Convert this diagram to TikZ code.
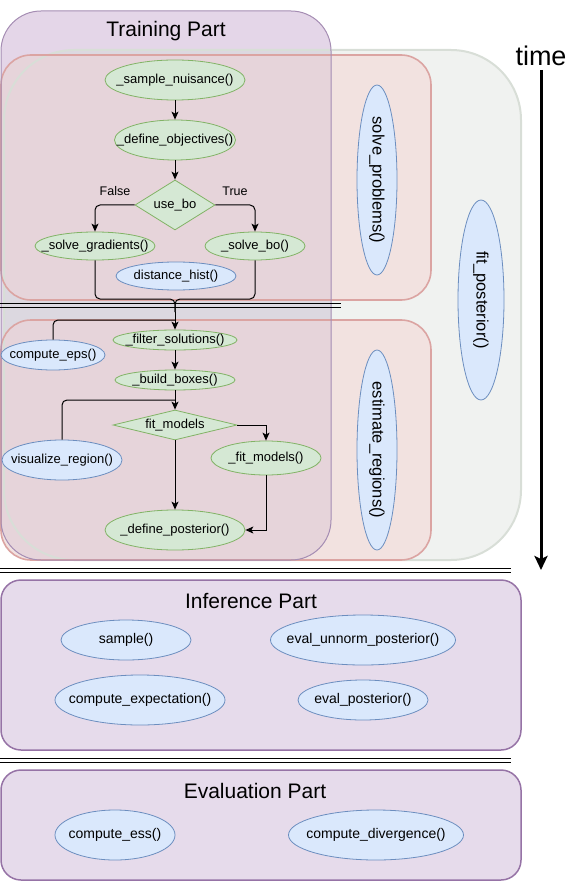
\documentclass[tikz,border=0pt]{standalone}
\usepackage{fontspec}
\setmainfont{Liberation Sans}
\usetikzlibrary{shapes.geometric,arrows.meta}
\definecolor{gfill}{HTML}{D5E8D4}
\definecolor{gline}{HTML}{82B366}
\definecolor{bfill}{HTML}{DAE8FC}
\definecolor{bline}{HTML}{6C8EBF}
\definecolor{pfill}{HTML}{E1D5E7}
\definecolor{pline}{HTML}{9673A6}
\definecolor{greyfill}{HTML}{F0F2F0}
\definecolor{greyline}{HTML}{D8DED7}
\definecolor{pinkfill}{HTML}{F2E2E0}
\definecolor{pinkline}{HTML}{DBA4A2}
\definecolor{trainfill}{HTML}{E4D6E8}
\definecolor{traingrey}{HTML}{DCD8E0}
\definecolor{trainpink}{HTML}{E6D4DA}
\definecolor{trainline}{HTML}{A58DB3}
\newcommand{\ztxt}[1]{\makebox[0pt]{#1}}
\begin{document}
\begin{tikzpicture}[x=1pt,y=-1pt,
  gell/.style={ellipse, draw=gline, fill=gfill, line width=0.8pt, inner sep=0pt, font=\fontsize{13}{15}\selectfont},
  bell/.style={ellipse, draw=bline, fill=bfill, line width=0.8pt, inner sep=0pt, font=\fontsize{13}{15}\selectfont},
  bigell/.style={ellipse, draw=bline, fill=bfill, line width=0.8pt, inner sep=0pt, font=\fontsize{14}{16}\selectfont},
  rotell/.style={ellipse, draw=bline, fill=bfill, line width=0.8pt, inner sep=0pt, rotate=-90, font=\fontsize{16.5}{18}\selectfont},
  gdia/.style={diamond, draw=gline, fill=gfill, line width=0.8pt, inner sep=0pt, font=\fontsize{13}{15}\selectfont},
  lbl/.style={inner sep=0pt, font=\fontsize{12.5}{14}\selectfont},
  ttl/.style={inner sep=0pt, font=\fontsize{21}{25}\selectfont},
  conn/.style={draw=black, line width=1pt},
  arr/.style={draw=black, line width=1pt, -{Stealth[length=8pt,width=7pt,inset=2pt]}},
  partbox/.style={draw=pline, fill=pfill!85!white, line width=1.5pt, rounded corners=20pt},
  sep/.style={draw=black, line width=1pt}
]
\useasboundingbox (0,0) rectangle (568,882);

% container fills
\fill[greyfill, rounded corners=70pt] (4,50) rectangle (521,560);
\fill[pinkfill, rounded corners=30pt] (1,55) rectangle (431,300);
\fill[pinkfill, rounded corners=30pt] (1,320) rectangle (431,560);
\fill[trainfill, rounded corners=40pt] (1,11) rectangle (331,560);
\begin{scope}
  \clip[rounded corners=40pt] (1,11) rectangle (331,560);
  \fill[traingrey, rounded corners=70pt] (4,50) rectangle (521,560);
  \fill[trainpink, rounded corners=30pt] (1,55) rectangle (431,300);
  \fill[trainpink, rounded corners=30pt] (1,320) rectangle (431,560);
\end{scope}
% container outlines
\draw[greyline, line width=2pt, rounded corners=70pt] (4,50) rectangle (521,560);
\draw[pinkline, line width=1.6pt, rounded corners=30pt] (1,55) rectangle (431,300);
\draw[pinkline, line width=1.6pt, rounded corners=30pt] (1,320) rectangle (431,560);
\draw[trainline, line width=1pt, rounded corners=40pt] (1,11) rectangle (331,560);
\node[ttl] (ttitle) at (166,31) {Training Part};

% separators
\draw[sep] (0,303) -- (341,303);
\draw[sep] (0,307) -- (341,307);
\draw[sep] (0,568) -- (511,568);
\draw[sep] (0,572) -- (511,572);
\draw[sep] (0,758) -- (511,758);
\draw[sep] (0,762) -- (511,762);

% time arrow
\node[inner sep=0pt, font=\fontsize{27}{30}\selectfont] (time) at (541,56) {time};
\coordinate (tstart) at (541,70);
\coordinate (tend) at (541,570);
\draw[line width=3pt, -{Stealth[length=14pt,width=13pt,inset=3pt]}] (tstart) -- (tend);

% right ellipses
\node[rotell, minimum width=190pt, minimum height=40pt] (sp) at (377,180) {\ztxt{solve\_problems()}};
\node[rotell, minimum width=200pt, minimum height=40pt] (er) at (377,450) {\ztxt{estimate\_regions()}};
\node[rotell, minimum width=200pt, minimum height=46pt] (fp) at (481,300) {\ztxt{fit\_posterior()}};

% flow
\node[gell, minimum width=140pt, minimum height=40pt] (sn) at (175,80) {\ztxt{\_sample\_nuisance()}};
\node[gell, minimum width=121pt, minimum height=40pt] (do) at (175,140) {\ztxt{\_define\_objectives()}};
\node[gdia, shape aspect=1.6, minimum width=80pt, minimum height=50pt] (ub) at (175,205) {\ztxt{use\_bo}};
\node[lbl] (lfalse) at (115,191) {False};
\node[lbl] (ltrue) at (235,191) {True};
\node[gell, minimum width=120pt, minimum height=28pt] (sg) at (95,246) {\ztxt{\_solve\_gradients()}};
\node[gell, minimum width=100pt, minimum height=28pt] (sb) at (255,246) {\ztxt{\_solve\_bo()}};
\node[bell, minimum width=120pt, minimum height=28pt] (dh) at (176,276) {\ztxt{distance\_hist()}};

\node[gell, minimum width=124pt, minimum height=20pt] (fs) at (175,340) {\ztxt{\_filter\_solutions()}};
\node[bell, minimum width=104pt, minimum height=30pt] (ce) at (53,355) {\ztxt{compute\_eps()}};
\node[gell, minimum width=120pt, minimum height=20pt] (bb) at (175,380) {\ztxt{\_build\_boxes()}};
\node[gdia, shape aspect=4.1, minimum width=124pt, minimum height=30pt] (fm) at (175,425) {\ztxt{fit\_models}};
\node[bell, minimum width=120pt, minimum height=40pt] (vr) at (62,460) {\ztxt{visualize\_region()}};
\node[gell, minimum width=110pt, minimum height=34pt] (fmo) at (266,458) {\ztxt{\_fit\_models()}};
\node[gell, minimum width=140pt, minimum height=40pt] (dp) at (175,530) {\ztxt{\_define\_posterior()}};

\coordinate (m) at (175,299);
\coordinate (m2) at (175,312);
\coordinate (e) at (175,320);
\coordinate (v) at (175,400);

\draw[arr] (sn) -- (do);
\draw[arr] (do) -- (ub);
\draw[arr, rounded corners=5pt] (ub.west) -| (sg.north);
\draw[arr, rounded corners=5pt] (ub.east) -| (sb.north);
\draw[conn, rounded corners=5pt] (sg.south) |- (m) -- (m2);
\draw[conn, rounded corners=5pt] (sb.south) |- (m) -- (m2);
\draw[arr] (m2) -- (fs.north);
\draw[conn, rounded corners=5pt] (ce.north) |- (e);
\draw[arr] (fs) -- (bb);
\draw[arr] (bb) -- (fm);
\draw[conn, rounded corners=5pt] (vr.north) |- (v);
\draw[arr] (fm.east) -| (fmo.north);
\draw[arr] (fm.south) -- (dp.north);
\draw[arr] (fmo.south) |- (dp.east);

% inference part
\draw[partbox] (1,580) rectangle (521,750);
\node[ttl] (ititle) at (251,601) {Inference Part};
\node[bigell, minimum width=130pt, minimum height=40pt] (smp) at (126,640) {\ztxt{sample()}};
\node[bigell, minimum width=185pt, minimum height=50pt] (eup) at (363,640) {\ztxt{eval\_unnorm\_posterior()}};
\node[bigell, minimum width=170pt, minimum height=50pt] (cex) at (140,700) {\ztxt{compute\_expectation()}};
\node[bigell, minimum width=130pt, minimum height=40pt] (evp) at (363,700) {\ztxt{eval\_posterior()}};

% evaluation part
\draw[partbox] (1,770) rectangle (521,880);
\node[ttl] (etitle) at (255,791) {Evaluation Part};
\node[bigell, minimum width=120pt, minimum height=50pt] (ess) at (115,835) {\ztxt{compute\_ess()}};
\node[bigell, minimum width=175pt, minimum height=50pt] (cdv) at (376,835) {\ztxt{compute\_divergence()}};
\end{tikzpicture}
\end{document}
